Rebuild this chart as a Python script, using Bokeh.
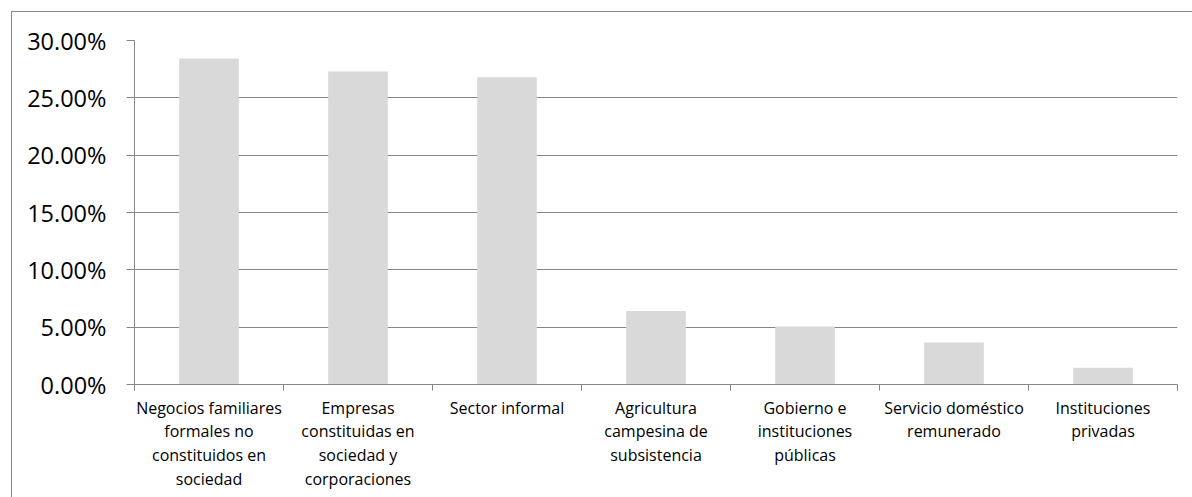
from bokeh.plotting import figure
from bokeh.models import Range1d, FixedTicker, NumeralTickFormatter, ColumnDataSource
from bokeh.embed import file_html
from bokeh.resources import INLINE

categories = [
    "Negocios familiares\nformales no\nconstituidos en\nsociedad",
    "Empresas\nconstituidas en\nsociedad y\ncorporaciones",
    "Sector informal",
    "Agricultura\ncampesina de\nsubsistencia",
    "Gobierno e\ninstituciones\npúblicas",
    "Servicio doméstico\nremunerado",
    "Instituciones\nprivadas",
]
values = [0.2842, 0.2730, 0.2680, 0.0640, 0.0505, 0.0366, 0.0147]
y_ticks = [0.0, 0.05, 0.10, 0.15, 0.20, 0.25, 0.30]

centers = [i + 0.5 for i in range(len(categories))]
bounds = [float(i) for i in range(len(categories) + 1)]

src = ColumnDataSource(dict(x=centers, top=values))

GRAY = "#868686"
FONT = "Open Sans"

p = figure(width=1181, height=486, output_backend="svg", toolbar_location=None,
           x_range=Range1d(0, len(categories)), y_range=Range1d(0, 0.30),
           min_border_left=122, min_border_right=16, min_border_top=28, min_border_bottom=114,
           margin=(11, 0, 0, 11))
p.styles = {"border-left": "1px solid " + GRAY, "border-top": "1px solid " + GRAY}
p.outline_line_color = None
p.background_fill_color = "white"
p.border_fill_color = "white"

p.vbar(x="x", top="top", width=0.4, bottom=0, source=src, fill_color="#D9D9D9", line_color=None)

# y axis
p.yaxis.ticker = FixedTicker(ticks=y_ticks)
p.yaxis.formatter = NumeralTickFormatter(format="0.00%")
p.yaxis.axis_line_color = GRAY
p.yaxis.major_tick_line_color = GRAY
p.yaxis.major_tick_out = 8
p.yaxis.major_tick_in = 0
p.yaxis.minor_tick_line_color = None
p.yaxis.major_label_text_font = FONT
p.yaxis.major_label_text_font_size = "23.5px"
p.yaxis.major_label_text_color = "black"
p.yaxis.major_label_standoff = 20

# x axis
p.xaxis.ticker = FixedTicker(ticks=centers, minor_ticks=bounds)
p.xaxis.major_label_overrides = {c: lab for c, lab in zip(centers, categories)}
p.xaxis.axis_line_color = GRAY
p.xaxis.major_tick_line_color = None
p.xaxis.major_tick_out = 0
p.xaxis.major_tick_in = 0
p.xaxis.minor_tick_line_color = GRAY
p.xaxis.minor_tick_out = 6
p.xaxis.minor_tick_in = 0
p.xaxis.major_label_text_font = FONT
p.xaxis.major_label_text_font_size = "16px"
p.xaxis.major_label_text_color = "black"
p.xaxis.major_label_text_line_height = 1.08
p.xaxis.major_label_standoff = 6

p.xgrid.grid_line_color = None
p.ygrid.ticker = FixedTicker(ticks=y_ticks)
p.ygrid.grid_line_color = GRAY
p.ygrid.grid_line_width = 1

open("out.html", "w").write(file_html(p, INLINE))
